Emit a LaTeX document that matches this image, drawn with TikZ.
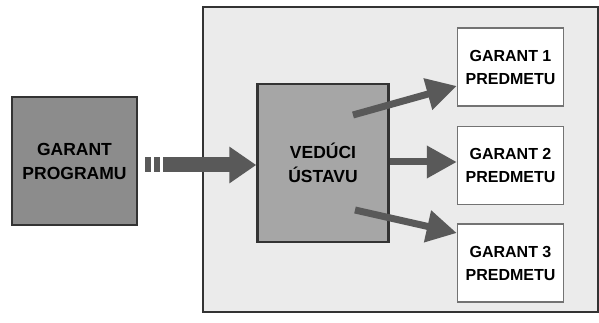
\documentclass[tikz,border=0pt]{standalone}
\usepackage{fontspec}
\setmainfont{Liberation Sans}
\usetikzlibrary{arrows.meta}
\definecolor{panelgray}{HTML}{EBEBEB}
\definecolor{darkbox}{HTML}{8C8C8C}
\definecolor{midbox}{HTML}{A6A6A6}
\definecolor{arrowgray}{HTML}{595959}

\begin{document}
\begin{tikzpicture}[x=1pt,y=-1pt,
  outerbox/.style={draw=black!80,line width=2.5pt,fill=panelgray},
  bigbox/.style={draw=black!80,line width=2.5pt,minimum width=#1,align=center,font=\bfseries\fontsize{17.5}{24}\selectfont},
  smallbox/.style={draw=black!55,line width=1.5pt,fill=white,minimum width=106pt,minimum height=78pt,align=center,font=\bfseries\fontsize{16}{23}\selectfont},
  thinarrow/.style={draw=arrowgray,line width=7pt,-{Triangle[length=30pt,width=31pt]}},
  thickarrow/.style={draw=arrowgray,line width=15pt,-{Triangle[length=27pt,width=35pt]}}]
\useasboundingbox (0,0) rectangle (599,323);
\draw[outerbox] (203,7) rectangle (598,312);
\node [bigbox=125pt,minimum height=128pt,fill=darkbox] (prog) at (74.5,161) {GARANT\\PROGRAMU};
\node [bigbox=131pt,minimum height=158pt,fill=midbox] (veduci) at (323,163) {VEDÚCI\\ÚSTAVU};
\node [smallbox] (g1) at (510.5,67) {GARANT 1\\PREDMETU};
\node [smallbox] (g2) at (510.5,165.5) {GARANT 2\\PREDMETU};
\node [smallbox] (g3) at (510.5,263) {GARANT 3\\PREDMETU};
\draw[thickarrow,dash pattern=on 6pt off 3pt on 6pt off 3pt on 300pt,shorten <=7pt] (prog.east |- 0,165) -- (veduci.west |- 0,165);
\draw[thinarrow] (353,115) -- (g1.west |- 0,86);
\draw[thinarrow] (veduci.east |- 0,162) -- (g2.west |- 0,162);
\draw[thinarrow] (355,210) -- (g3.west |- 0,233);
\end{tikzpicture}
\end{document}
